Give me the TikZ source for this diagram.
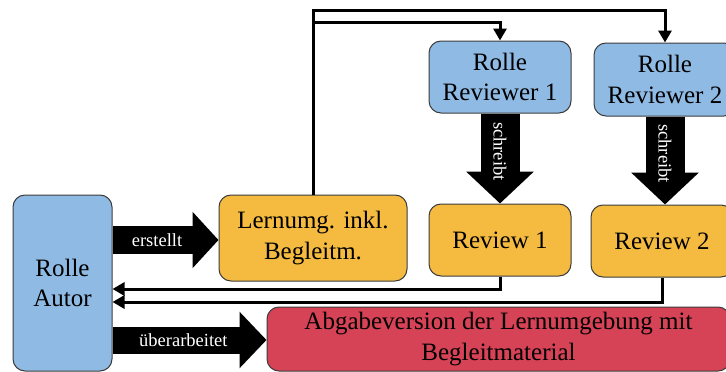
\documentclass[tikz,border=0pt]{standalone}
\usepackage{fontspec}
\setmainfont{Liberation Serif}
\usetikzlibrary{arrows.meta,calc}
\definecolor{roleblue}{RGB}{143,186,228}
\definecolor{docorange}{RGB}{244,187,64}
\definecolor{finalred}{RGB}{214,66,86}
\definecolor{edgegray}{RGB}{60,60,60}
\begin{document}
\begin{tikzpicture}[x=1pt,y=-1pt,
  box/.style={draw=edgegray,line width=1pt,rounded corners=12pt,inner sep=0pt,align=center,
    font=\fontsize{25}{30.5}\selectfont},
  rolebox/.style={box,fill=roleblue},
  docbox/.style={box,fill=docorange},
  finalbox/.style={box,fill=finalred},
  thinarrow/.style={line width=3pt,-{Triangle[length=12pt,width=13pt]}},
  lbl/.style={text=white,font=\fontsize{18.5}{22}\selectfont,inner sep=0pt}
]
\useasboundingbox (0,0) rectangle (726,372);
\begin{scope}
\clip (0,0) rectangle (726,372);
\node[rolebox,minimum width=99pt,minimum height=176pt] (autor) at (62.5,283) {Rolle\\Autor};
\node[docbox,minimum width=188pt,minimum height=86pt] (lern) at (313,238) {Lernumg. inkl.\\Begleitm.};
\node[rolebox,minimum width=142pt,minimum height=72pt] (rev1) at (500,77) {Rolle\\Reviewer 1};
\node[rolebox,minimum width=142pt,minimum height=73pt] (rev2) at (665,79.5) {Rolle\\Reviewer 2};
\node[docbox,minimum width=142pt,minimum height=72pt] (review1) at (500,240) {Review 1};
\node[docbox,minimum width=142pt,minimum height=72pt] (review2) at (662,241) {Review 2};
\node[finalbox,minimum width=463pt,minimum height=64pt] (final) at (498.5,339) {Abgabeversion der Lernumgebung mit\\Begleitmaterial};

% block arrows
\draw[line width=28pt,-{Triangle[length=26pt,width=55pt]}] (autor.east |- 0,240) -- (lern.west |- 0,240)
  node[lbl,pos=0.42] {erstellt};
\draw[line width=27pt,-{Triangle[length=27pt,width=55pt]}] (autor.east |- 0,340) -- (final.west |- 0,340)
  node[lbl,pos=0.46] {überarbeitet};
\draw[line width=39pt,-{Triangle[length=32pt,width=66pt]}] (rev1.south) -- (review1.north)
  node[lbl,pos=0.42,rotate=-90] {schreibt};
\draw[line width=39pt,-{Triangle[length=32pt,width=66pt]}] (rev2.south) -- (review2.north -| rev2.south)
  node[lbl,pos=0.42,rotate=-90] {schreibt};

% thin connectors
\draw[thinarrow] (lern.north) -- (313,10) -| (rev2.north);
\draw[thinarrow] (313,22) -| (rev1.north);
\draw[thinarrow] (review1.south) |- (autor.east |- 0,289);
\draw[thinarrow] (review2.south) |- (autor.east |- 0,302);
\end{scope}
\end{tikzpicture}
\end{document}
